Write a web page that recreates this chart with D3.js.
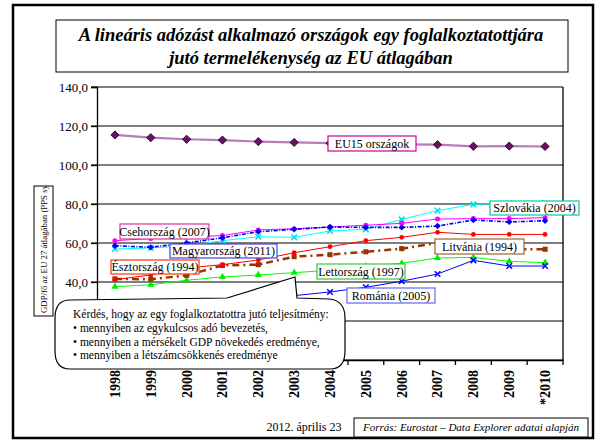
<!DOCTYPE html>
<html>
<head>
<meta charset="utf-8">
<script src="https://cdn.jsdelivr.net/npm/d3@7"></script>
<style>
  body { margin: 0; background: #fff; }
  svg text { font-family: "Liberation Serif", "Times New Roman", serif; }
</style>
</head>
<body>
<div id="plot"></div>
<script>
// categories and values (GDP per employed person, EU27 = 100)
var years = ["1998", "1999", "2000", "2001", "2002", "2003", "2004", "2005", "2006", "2007", "2008", "2009", "*2010"];
var eu15 = [115.4, 114.0, 113.2, 112.8, 112.0, 111.6, 111.2, 110.9, 110.6, 110.4, 109.6, 109.7, 109.5];
var cseh = [61.2, 62.3, 63.0, 63.8, 66.7, 67.3, 68.2, 69.1, 70.1, 72.3, 72.5, 72.5, 73.0];
var magyar = [58.6, 57.8, 60.0, 62.7, 65.8, 67.0, 68.2, 68.0, 68.0, 68.7, 71.8, 70.8, 71.4];
var szlovak = [56.9, 57.5, 58.5, 61.2, 63.2, 62.9, 66.2, 67.0, 72.1, 76.6, 79.8, 80.3, 80.5];
var eszt = [41.2, 43.6, 47.2, 48.9, 51.3, 55.0, 58.1, 61.2, 62.9, 65.5, 64.4, 64.4, 64.4];
var litv = [41.6, 41.4, 43.4, 48.5, 48.9, 53.0, 54.0, 55.5, 57.1, 60.0, 58.0, 56.8, 56.8];
var lett = [37.6, 38.6, 40.9, 42.6, 43.6, 44.8, 46.0, 48.0, 49.6, 52.3, 52.6, 50.6, 49.9];
var roman = [null, null, null, null, null, 33.0, 34.9, 37.3, 40.4, 44.1, 51.1, 48.2, 48.2];
var gridTicks = [0, 20, 40, 60, 80, 100, 120, 140];
var labelTicks = [40, 60, 80, 100, 120, 140];   // 0 and 20 sit behind the callout

var title1 = "A lineáris adózást alkalmazó országok egy foglalkoztatottjára";
var title2 = "jutó termelékenység az EU átlagában";
var yTitle = "GDP/fő az EU 27 átlagában (PPS system)";
var calloutLines = [
    "Kérdés, hogy az egy foglalkoztatottra jutó teljesítmény:",
    "• mennyiben az egykulcsos adó bevezetés,",
    "• mennyiben a mérsékelt GDP növekedés eredménye,",
    "• mennyiben a létszámcsökkenés eredménye"
];

var series = [
    { values: eu15, color: "#b87ab8", width: 2.2, dash: null, marker: "diamond", mcolor: "#6b0f6b", msize: 34, edge: "#000" },
    { values: lett, color: "#00ff00", width: 1, dash: null, marker: "triangle", mcolor: "#00ee00", msize: 22 },
    { values: roman, color: "#0000ff", width: 1, dash: null, marker: "x", mcolor: "#0000ff", msize: 22 },
    { values: litv, color: "#993300", width: 2.5, dash: "7,4,2,4", marker: "square", mcolor: "#993300", msize: 26 },
    { values: eszt, color: "#ff0000", width: 1, dash: null, marker: "circle", mcolor: "#ff0000", msize: 18 },
    { values: szlovak, color: "#00ffff", width: 1, dash: null, marker: "x", mcolor: "#00dddd", msize: 22 },
    { values: cseh, color: "#ff00ff", width: 1, dash: null, marker: "circle", mcolor: "#ff00ff", msize: 20 },
    { values: magyar, color: "#0000ff", width: 1.6, dash: "4,1.5,1,1.5", marker: "diamond", mcolor: "#0000ee", msize: 20 }
];

// annotation boxes
var labels = [
    { text: "EU15 országok", x: 328, y: 136, w: 88, h: 15, color: "#cc0099" },
    { text: "Csehország (2007)", x: 120, y: 224, w: 89, h: 15, color: "#dd3399" },
    { text: "Magyarország (2011)", x: 170, y: 244, w: 107, h: 14, color: "#4444dd" },
    { text: "Észtország (1994)", x: 111, y: 260, w: 88, h: 14, color: "#ff3300" },
    { text: "Lettország (1997)", x: 317, y: 264, w: 88, h: 15, color: "#33cc33" },
    { text: "Románia (2005)", x: 347, y: 288, w: 88, h: 15, color: "#6666ee" },
    { text: "Szlovákia (2004)", x: 490, y: 201, w: 89, h: 14, color: "#00cc99" },
    { text: "Litvánia (1994)", x: 435, y: 239, w: 89, h: 15, color: "#996633" }
];

var W = 602, H = 444;
var plot = { left: 97, right: 563, top: 87, bottom: 360 };

var svg = d3.select("#plot").append("svg")
    .attr("width", W)
    .attr("height", H);

svg.append("rect").attr("width", W).attr("height", H).attr("fill", "#fff");

// outer frame
svg.append("rect")
    .attr("x", 13).attr("y", 5).attr("width", 580).attr("height", 433)
    .attr("fill", "none").attr("stroke", "#000").attr("stroke-width", 2.5);

// title
svg.append("rect")
    .attr("x", 56).attr("y", 20).attr("width", 512).attr("height", 52)
    .attr("fill", "#fff").attr("stroke", "#000").attr("stroke-width", 1);
svg.append("text").attr("x", 311).attr("y", 41)
    .attr("text-anchor", "middle").attr("font-size", 18.5)
    .attr("font-weight", "bold").attr("font-style", "italic").text(title1);
svg.append("text").attr("x", 311).attr("y", 64)
    .attr("text-anchor", "middle").attr("font-size", 18.5)
    .attr("font-weight", "bold").attr("font-style", "italic").text(title2);

var xScale = d3.scaleBand().domain(years).range([plot.left, plot.right]).padding(0);
var yScale = d3.scaleLinear().domain([0, 140]).range([plot.bottom, plot.top]);
var cx = function (i) { return xScale(years[i]) + xScale.bandwidth() / 2; };

// gridlines
svg.append("g").selectAll("line").data(gridTicks).join("line")
    .attr("x1", plot.left - 6).attr("x2", plot.right)
    .attr("y1", function (d) { return yScale(d); })
    .attr("y2", function (d) { return yScale(d); })
    .attr("stroke", "#555").attr("stroke-width", 1.3);

// plot border
svg.append("line").attr("x1", plot.right).attr("x2", plot.right)
    .attr("y1", plot.top).attr("y2", plot.bottom)
    .attr("stroke", "#000").attr("stroke-width", 1.3);

// y axis
var yAxis = d3.axisLeft(yScale).tickValues(labelTicks).tickSize(6).tickPadding(3)
    .tickFormat(function (d) { return d3.format(".1f")(d).replace(".", ","); });
var yAxisDraw = svg.append("g")
    .attr("transform", "translate(" + plot.left + ",0)")
    .call(yAxis);
yAxisDraw.select(".domain").attr("stroke-width", 1.3);
yAxisDraw.selectAll("line").attr("stroke-width", 1.3);
yAxisDraw.selectAll("text").attr("font-size", 13)
    .attr("font-family", "Liberation Serif").attr("fill", "#000");

// x axis: labels at band centres, ticks between categories
var xAxis = d3.axisBottom(xScale).tickSize(0).tickPadding(0);
var xAxisDraw = svg.append("g")
    .attr("transform", "translate(0," + plot.bottom + ")")
    .call(xAxis);
xAxisDraw.select(".domain").attr("stroke-width", 1.3);
xAxisDraw.selectAll("text")
    .attr("font-size", 14).attr("font-weight", "bold")
    .attr("font-family", "Liberation Serif").attr("fill", "#000")
    .attr("text-anchor", "end")
    .attr("transform", "rotate(-90)")
    .attr("x", -10).attr("y", 0).attr("dy", "0.35em");
svg.append("g").selectAll("line")
    .data(years.map(function (d) { return xScale(d); }).concat([plot.right]))
    .join("line")
    .attr("x1", function (d) { return d; }).attr("x2", function (d) { return d; })
    .attr("y1", plot.bottom).attr("y2", plot.bottom + 5)
    .attr("stroke", "#000").attr("stroke-width", 1.3);

// y axis title, boxed and clipped like the original
svg.append("clipPath").attr("id", "ytclip")
    .append("rect").attr("x", 34).attr("y", 186).attr("width", 19).attr("height", 130);
svg.append("rect")
    .attr("x", 34).attr("y", 186).attr("width", 19).attr("height", 130)
    .attr("fill", "#fff").attr("stroke", "#000").attr("stroke-width", 1);
svg.append("g").attr("clip-path", "url(#ytclip)")
    .append("text")
    .attr("transform", "translate(46.5,313) rotate(-90)")
    .attr("font-size", 8.8).text(yTitle);

// series
var line = d3.line()
    .defined(function (d) { return d != null; })
    .x(function (d, i) { return cx(i); })
    .y(function (d) { return yScale(d); });

var symbols = {
    diamond: d3.symbolSquare,   // drawn rotated 45deg, like Excel's diamond
    triangle: d3.symbolTriangle,
    square: d3.symbolSquare,
    circle: d3.symbolCircle,
    x: d3.symbolTimes || d3.symbolCross
};

series.forEach(function (s) {
    svg.append("path")
        .datum(s.values)
        .attr("d", line)
        .attr("fill", "none")
        .attr("stroke", s.color)
        .attr("stroke-width", s.width)
        .attr("stroke-dasharray", s.dash);

    var pts = s.values.map(function (v, i) { return { v: v, i: i }; })
        .filter(function (d) { return d.v != null; });
    var sym = d3.symbol().type(symbols[s.marker]).size(s.msize);
    var isX = s.marker === "x";
    svg.append("g").selectAll("path").data(pts).join("path")
        .attr("transform", function (d) {
            return "translate(" + cx(d.i) + "," + yScale(d.v) + ")" + (s.marker === "diamond" ? " rotate(45)" : "");
        })
        .attr("d", sym)
        .attr("fill", isX ? "none" : s.mcolor)
        .attr("stroke", isX ? s.mcolor : (s.edge || "none"))
        .attr("stroke-width", isX ? 1.5 : 0.7);
});

// series labels
var lab = svg.append("g").selectAll("g").data(labels).join("g");
lab.append("rect")
    .attr("x", function (d) { return d.x; }).attr("y", function (d) { return d.y; })
    .attr("width", function (d) { return d.w; }).attr("height", function (d) { return d.h; })
    .attr("fill", "#fff").attr("stroke", function (d) { return d.color; }).attr("stroke-width", 1.2);
lab.append("text")
    .attr("x", function (d) { return d.x + d.w / 2; })
    .attr("y", function (d) { return d.y + d.h / 2 + 4; })
    .attr("text-anchor", "middle").attr("font-size", 12)
    .text(function (d) { return d.text; });

// callout
svg.append("path")
    .attr("d", "M70,300 L227,298 L295,277 L297,298 L330,299 Q345,301 345,318 L345,351 Q345,369 330,369 L70,369 Q55,369 55,351 L55,318 Q55,300 70,300 Z")
    .attr("fill", "#fff").attr("stroke", "#000").attr("stroke-width", 1.2);
svg.append("g").selectAll("text").data(calloutLines).join("text")
    .attr("x", 73)
    .attr("y", function (d, i) { return 318 + i * 13.8; })
    .attr("font-size", 11.5)
    .text(function (d) { return d; });

// footer
svg.append("text").attr("x", 304).attr("y", 431)
    .attr("text-anchor", "middle").attr("font-size", 12)
    .text("2012. április 23");
svg.append("rect")
    .attr("x", 354).attr("y", 418).attr("width", 234).attr("height", 19)
    .attr("fill", "#fff").attr("stroke", "#000").attr("stroke-width", 1);
svg.append("text").attr("x", 471).attr("y", 431)
    .attr("text-anchor", "middle").attr("font-size", 11).attr("font-style", "italic")
    .text("Forrás: Eurostat – Data Explorer adatai alapján");
</script>
</body>
</html>
